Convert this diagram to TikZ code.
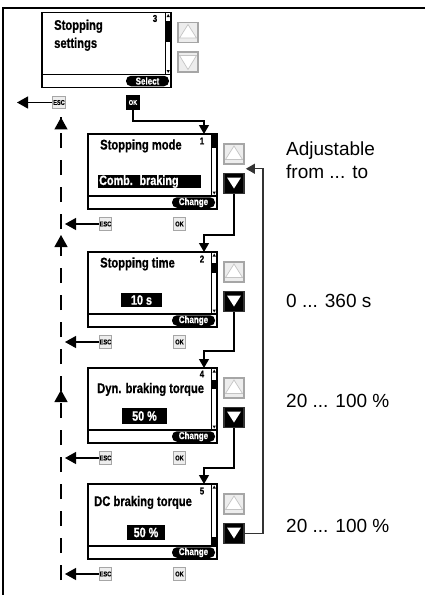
\documentclass[tikz,border=0pt]{standalone}
\usepackage{fontspec}
\setmainfont{Liberation Sans}
\newfontfamily\lcdfont[FakeStretch=0.8, BoldFeatures={FakeBold=0.8}]{Liberation Sans}
\usetikzlibrary{arrows.meta, positioning, calc, decorations.markings}
\definecolor{btnrim}{HTML}{A6A6A6}
\definecolor{btnface}{HTML}{EDEDED}
\definecolor{btntri}{HTML}{C4C4C4}
\tikzset{
  lcd/.style={draw, line width=1.4pt, minimum width=129pt, minimum height=75pt, inner sep=0pt},
  lcdline/.style={line width=1.2pt},
  lcdtxt/.style={font=\lcdfont\bfseries\fontsize{14}{18}\selectfont, inner sep=0pt},
  lcdnum/.style={font=\lcdfont\bfseries\fontsize{10}{10}\selectfont, inner sep=0pt},
  val/.style={fill=black, text=white, font=\lcdfont\bfseries\fontsize{13.5}{14}\selectfont,
              inner sep=0pt, minimum height=14pt},
  pill/.style={fill=black, text=white, rounded corners=5pt, font=\lcdfont\bfseries\fontsize{10}{10}\selectfont,
               inner sep=0pt, minimum width=43pt, minimum height=10.5pt},
  btn/.style={draw=btnrim, fill=btnface, line width=1.8pt, minimum size=20pt, inner sep=0pt},
  btnup/.style={btn, path picture={\draw[draw=btntri, fill=white, line width=0.7pt]
      ([shift={(0pt,8pt)}]path picture bounding box.center) -- ([shift={(-8.5pt,-5.5pt)}]path picture bounding box.center)
      -- ([shift={(8.5pt,-5.5pt)}]path picture bounding box.center) -- cycle;}},
  btndg/.style={btn, path picture={\draw[draw=btntri, fill=white, line width=0.7pt]
      ([shift={(0pt,-7.5pt)}]path picture bounding box.center) -- ([shift={(-8.5pt,6.5pt)}]path picture bounding box.center)
      -- ([shift={(8.5pt,6.5pt)}]path picture bounding box.center) -- cycle;}},
  btndn/.style={btn, draw=black!80, fill=black, path picture={\fill[white]
      ([shift={(0pt,-5pt)}]path picture bounding box.center) -- ([shift={(-7pt,6pt)}]path picture bounding box.center)
      -- ([shift={(7pt,6pt)}]path picture bounding box.center) -- cycle;}},
  btnesc/.style={draw=btnrim, fill=btnface, line width=1.4pt, minimum size=12.5pt, inner sep=0pt,
                 font=\lcdfont\bfseries\fontsize{7}{7}\selectfont},
  btnok/.style={btnesc, draw=black, fill=black, text=white, minimum height=14pt},
  flow/.style={-{Triangle[length=9pt,width=10pt]}, line width=1.2pt},
  escflow/.style={-{Triangle[length=11pt,width=12pt]}, line width=1.2pt},
  rail/.style={line width=1.2pt, dash pattern=on 15pt off 12pt},
  rangetxt/.style={font=\fontsize{19}{23}\selectfont, inner sep=0pt, align=left},
  panel/.style={line width=1.5pt},
}
% screen frame: name, soft key text, scroll thumb from / to
\newcommand{\lcdframe}[4]{%
  \node[lcd] (#1) at (64.5,37.5) {};
  \draw[lcdline] (0,62) -- (129,62);
  \draw[line width=0.6pt] (123.5,0) -- (123.5,62);
  \fill (123.5,#3) rectangle (129,#4);
  \fill (126.2,1.5) -- (124.6,4.5) -- (127.8,4.5) -- cycle;
  \fill (126.2,60.5) -- (124.6,57.5) -- (127.8,57.5) -- cycle;
  \node[pill] (#1-key) at (105.5,68.5) {#2};
}

\begin{document}
\begin{tikzpicture}[x=1pt, y=-1pt]
  \useasboundingbox (0,0) rectangle (425,595);
  \draw[panel] (3,595) -- (3,8) -- (425,8);

  % menu entry
  \begin{scope}[shift={(42,12.5)}]
    \lcdframe{s0}{Select}{8}{29}
    \node[lcdtxt, anchor=north west, align=left] (t0) at (12,7) {Stopping\\settings};
    \node[lcdnum] (n0) at (113,6) {3};
    \node[btnup] (up0) at (146,20) {};
    \node[btndg] (dn0) at (146,49.5) {};
    \node[btnesc] (esc0) at (17,90) {ESC};
    \node[btnok] (ok0) at (91,90) {OK};
  \end{scope}

  % parameters
  \begin{scope}[shift={(88,134)}]
    \lcdframe{s1}{Change}{0}{14}
    \node[lcdtxt, anchor=base west] (t1) at (12,15.5) {Stopping mode};
    \node[lcdnum] (n1) at (114,7) {1};
    \node[val, anchor=west, text width=101pt, inner xsep=1pt, minimum height=13pt] (v1) at (10,47.5) {Comb. braking};
    \node[btnup] (up1) at (146,20) {};
    \node[btndn] (dn1) at (146,49.5) {};
    \node[btnesc] (esc1) at (17.5,90) {ESC};
    \node[btnesc] (ok1) at (91.5,90) {OK};
    \coordinate (in1) at (116,0);
  \end{scope}
  \begin{scope}[shift={(88,252)}]
    \lcdframe{s2}{Change}{11}{21}
    \node[lcdtxt, anchor=base west] (t2) at (12,15.5) {Stopping time};
    \node[lcdnum] (n2) at (114,7) {2};
    \node[val, minimum width=41pt] (v2) at (53.5,48) {10 s};
    \node[btnup] (up2) at (146,20) {};
    \node[btndn] (dn2) at (146,49.5) {};
    \node[btnesc] (esc2) at (17.5,90) {ESC};
    \node[btnesc] (ok2) at (91.5,90) {OK};
    \coordinate (in2) at (116,0);
  \end{scope}
  \begin{scope}[shift={(88,368)}]
    \lcdframe{s3}{Change}{12}{21}
    \node[lcdtxt, anchor=base west] (t3) at (9,25) {Dyn. braking torque};
    \node[lcdnum] (n3) at (114,6) {4};
    \node[val, minimum width=45pt, minimum height=16pt] (v3) at (56.5,48) {50 \%};
    \node[btnup] (up3) at (146,20) {};
    \node[btndn] (dn3) at (146,49.5) {};
    \node[btnesc] (esc3) at (17.5,90) {ESC};
    \node[btnesc] (ok3) at (91.5,90) {OK};
    \coordinate (in3) at (116,0);
  \end{scope}
  \begin{scope}[shift={(88,484)}]
    \lcdframe{s4}{Change}{53}{62}
    \node[lcdtxt, anchor=base west] (t4) at (6,22) {DC braking torque};
    \node[lcdnum] (n4) at (114,7) {5};
    \node[val, minimum width=38pt, minimum height=15pt] (v4) at (58,48.5) {50 \%};
    \node[btnup] (up4) at (146,20) {};
    \node[btndn] (dn4) at (146,49.5) {};
    \node[btnesc] (esc4) at (17.5,90) {ESC};
    \node[btnesc] (ok4) at (91.5,90) {OK};
    \coordinate (in4) at (116,0);
  \end{scope}

  % value ranges
  \node[rangetxt, anchor=north west] (adj) at (286,142) {Adjustable\\from ... to};
  \node[rangetxt, anchor=base west] (r2) at (286,307) {0 ... 360 s};
  \node[rangetxt, anchor=base west] (r3) at (286,407) {20 ... 100 \%};
  \node[rangetxt, anchor=base west] (r4) at (286,532) {20 ... 100 \%};

  % OK / down key paths
  \draw[flow] (ok0.south) |- ($(in1)+(0pt,13pt)$) -- (in1);
  \draw[flow] (dn1.south) |- ($(in2)+(0pt,17pt)$) -- (in2);
  \draw[flow] (dn2.south) |- ($(in3)+(0pt,17pt)$) -- (in3);
  \draw[flow] (dn3.south) |- ($(in4)+(0pt,16pt)$) -- (in4);
  \coordinate (ret) at ($(up1.south east)!0.5!(dn1.north east)+(1pt,0pt)$);
  \draw[flow, draw=black!80] (dn4.east) -- ++(18pt,0pt) |- (ret);

  % ESC paths
  \coordinate (exit) at (17,0);
  \coordinate (railx) at (65,0);
  \coordinate (railbot) at (61,580);
  \coordinate (railtop) at (61,117);
  \draw[escflow] (esc0.west) -- (esc0.west -| exit);
  \draw[escflow] (esc1.west) -- (esc1.west -| railx);
  \draw[escflow] (esc2.west) -- (esc2.west -| railx);
  \draw[escflow] (esc3.west) -- (esc3.west -| railx);
  \draw[escflow] (esc4.west) -- (esc4.west -| railx);
  \draw[rail, postaction={decorate}, decoration={markings,
      mark=at position 190pt with {\arrow{Triangle[length=12pt,width=13pt]}},
      mark=at position 345pt with {\arrow{Triangle[length=12pt,width=13pt]}},
      mark=at position 0.999 with {\arrow{Triangle[length=12pt,width=13pt]}}}]
    (railbot) -- (railtop);
\end{tikzpicture}
\end{document}
